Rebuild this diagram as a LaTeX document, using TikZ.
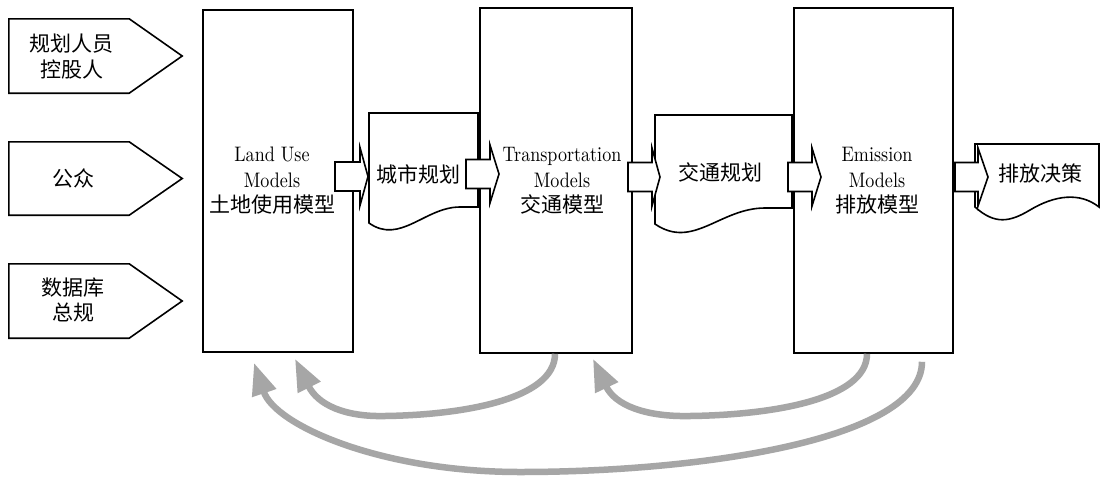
\documentclass[tikz,border=0pt]{standalone}
\usepackage{fontspec}
\setmainfont{lmroman10-regular.otf}[FakeStretch=0.86]
\newfontfamily\cjk{Noto Sans CJK SC}
\usetikzlibrary{arrows.meta}
\definecolor{fb}{HTML}{A6A6A6}
\newcommand\blockarrow[4]{%
  \draw[blk] (#1,{#4-14.5}) -- (#2,{#4-14.5}) -- (#2,{#4-29}) -- (#3,#4) -- (#2,{#4+29}) -- (#2,{#4+14.5}) -- (#1,{#4+14.5}) -- cycle;}
\begin{document}
\begin{tikzpicture}[x=1pt,y=-1pt,
  every node/.style={font=\fontsize{21}{25.5}\selectfont, align=center},
  model/.style={draw=black, line width=1.6pt, fill=white, inner sep=0pt},
  inbox/.style={inner sep=0pt},
  outl/.style={draw=black, line width=1.6pt, fill=white, line join=miter},
  blk/.style={draw=black, line width=1.6pt, fill=white, line join=miter},
  fback/.style={draw=fb, line width=6.5pt, -{Triangle[length=32pt,width=24pt]}}
]
\useasboundingbox (0,0) rectangle (1101,480);
\fill[white] (0,0) rectangle (1101,480);

% input shapes
\node[inbox, minimum width=120pt, minimum height=74pt] (in1) at (69,56) {};
\node[inbox, minimum width=120pt, minimum height=73pt] (in2) at (69,178.5) {};
\node[inbox, minimum width=120pt, minimum height=74pt] (in3) at (69,301) {};
\foreach \n in {in1,in2,in3}{
  \draw[outl] (\n.north west) -- (\n.north east) -- ([xshift=53pt]\n.east) -- (\n.south east) -- (\n.south west) -- cycle;}
\node (t1) at (72,56.5) {\cjk 规划人员\\\cjk 控股人};
\node (t2) at (73,178.5) {\cjk 公众};
\node (t3) at (73,300) {\cjk 数据库\\\cjk 总规};

% model boxes
\node[model, minimum width=150pt, minimum height=342pt] (lu) at (278,181) {};
\node[model, minimum width=152pt, minimum height=345pt] (tm) at (556,180.5) {};
\node[model, minimum width=159pt, minimum height=345pt] (em) at (873.5,180.5) {};
\node (lut) at (272,181) {Land Use\\Models\\{\cjk 土地使用模型}};
\node (tmt) at (562,181) {Transportation\\Models\\{\cjk 交通模型}};
\node (emt) at (877,181) {Emission\\Models\\{\cjk 排放模型}};

% documents
\draw[outl] (369,113) -- (478,113) -- (478,207) -- (460,207) .. controls (425,207) and (400,245) .. (369,223) -- cycle;
\draw[outl] (655,115) -- (792,115) -- (792,208) -- (765,208) .. controls (720,208) and (693,250) .. (655,224) -- cycle;
\draw[outl] (975,144) -- (1099,144) -- (1099,207) .. controls (1080,192) and (1055,195) .. (1030,210) .. controls (1010,222) and (995,225) .. (975,207) -- cycle;
\node (cs) at (418,174) {\cjk 城市规划};
\node (jt) at (720,172) {\cjk 交通规划};
\node (pf) at (1040,173) {\cjk 排放决策};

% block arrows
\blockarrow{335}{360}{368}{176.5}
\blockarrow{466}{490}{499}{174}
\blockarrow{628}{652}{660}{177}
\blockarrow{788}{812}{821}{177}
\blockarrow{955}{978}{988}{177}

% feedback arrows
\draw[fback] ([xshift=-1pt]tm.south) .. controls (555,400) and (460,415) .. (385,416)
  .. controls (345,417) and (318,405) .. ([xshift=17pt,yshift=-6pt]lu.south);
\draw[fback] ([xshift=-6.5pt]em.south) .. controls (867,400) and (770,415) .. (690,416)
  .. controls (645,417) and (615,405) .. ([xshift=37pt,yshift=-5pt]tm.south);
\coordinate (cst) at ([xshift=48.5pt,yshift=-8pt]em.south);
\draw[fback] (cst) .. controls (922,440) and (700,472) .. (520,472)
  .. controls (380,472) and (275,425) .. ([xshift=-24pt,yshift=-10pt]lu.south);
\end{tikzpicture}
\end{document}
